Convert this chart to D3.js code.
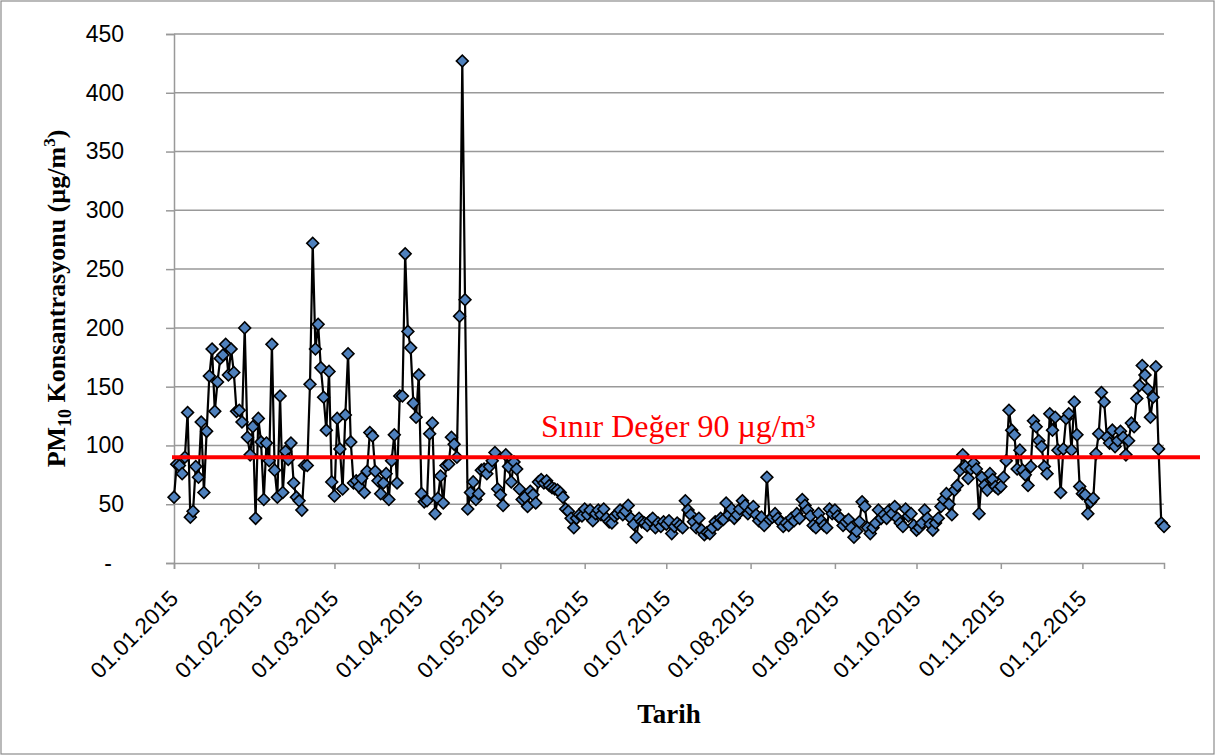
<!DOCTYPE html>
<html><head><meta charset="utf-8">
<script src="https://cdn.jsdelivr.net/npm/d3@7"></script>
<style>body{margin:0;background:#fff;} svg{display:block;}</style>
</head><body>
<svg id="c" width="1216" height="756"></svg>
<script>
// Tick labels (month starts) and their day-of-year index
const monthLabels = ["01.01.2015","01.02.2015","01.03.2015","01.04.2015","01.05.2015","01.06.2015","01.07.2015","01.08.2015","01.09.2015","01.10.2015","01.11.2015","01.12.2015"];
const monthStartDay = [0,31,59,90,120,151,181,212,243,273,304,334];
const yTicks = [0,50,100,150,200,250,300,350,400,450];
const limitValue = 90;
const limitLabel = "Sınır Değer 90 µg/m³";

// Daily PM10 values (µg/m³), 2015
const jan = [56,84,83,76,90,128,39,44,82,73,120,60,112,159,182,129,154,174,177,186,160,182,162,129,130,120,200,107,92,116,38];
const feb = [123,103,54,102,87,186,79,56,142,60,95,88,102,68,56,53,45,83,83,152,272,182,203,166,141,113,163,69];
const mar = [57,123,97,63,126,178,103,68,70,65,72,60,78,111,108,78,70,59,68,76,54,87,109,68,142,142,263,197,183,136,124];
const apr = [160,59,52,53,110,119,42,55,74,51,83,84,107,101,90,210,427,224,46,60,69,54,59,79,80,76,82,87,94,63];
const may = [58,49,92,82,69,86,80,63,54,56,48,61,58,51,69,71,68,70,66,64,63,62,60,56,46,44,38,30,38,41,40];
const jun = [46,41,45,36,42,45,41,46,38,35,34,40,42,45,41,44,49,38,33,22,38,35,34,32,36,38,30,34,31,35];
const jul = [33,36,25,31,34,32,30,53,45,41,35,30,38,28,24,26,25,30,35,33,38,37,51,41,46,38,41,46,53,49,42];
const aug = [45,48,41,36,39,32,73,37,39,42,38,35,31,34,32,38,36,42,38,54,49,45,40,32,30,42,36,32,30,46,42];
const sep = [45,40,38,32,35,37,30,22,27,35,52,48,30,25,30,34,45,38,41,38,45,42,48,38,34,31,46,40,42,32];
const oct = [28,30,34,45,38,33,28,34,38,48,54,59,50,41,62,66,79,92,82,72,80,85,80,42,73,66,62,76,71,65,63];
const nov = [65,73,87,130,113,109,80,96,79,75,66,82,121,116,104,99,82,76,127,113,124,96,60,97,123,127,96,137,109,65];
const dec = [59,58,42,52,55,93,110,145,137,107,102,113,99,104,112,107,92,104,119,116,140,151,168,160,148,124,141,167,97,34,31];

const values = [].concat(jan,feb,mar,apr,may,jun,jul,aug,sep,oct,nov,dec);
const data = values.map((v,i)=>({day:i, v:v}));

const svg = d3.select("#c");
const W = 1216, H = 756;
const m = {left:174, right:52, top:34, bottom:193};

// outer frame
svg.append("rect").attr("x",1).attr("y",1).attr("width",W-3).attr("height",H-3)
  .attr("fill","#fff").attr("stroke","#8c8c8c").attr("stroke-width",1.2);

const x = d3.scaleLinear().domain([0, values.length-1]).range([m.left, W-m.right]);
const y = d3.scaleLinear().domain([0,450]).range([H-m.bottom, m.top]);

// gridlines
svg.append("g").selectAll("line").data(yTicks.filter(d=>d>0)).join("line")
  .attr("x1",x(0)).attr("x2",x(values.length-1))
  .attr("y1",d=>y(d)).attr("y2",d=>y(d))
  .attr("stroke","#999").attr("stroke-width",1.5);

// y axis
const yAxis = svg.append("g").attr("transform",`translate(${x(0)},0)`)
  .call(d3.axisLeft(y).tickValues(yTicks).tickSize(8).tickPadding(42)
    .tickFormat(d=> d===0 ? "-" : d));
yAxis.select(".domain").attr("stroke","#999").attr("stroke-width",1.5);
yAxis.selectAll(".tick line").attr("stroke","#999").attr("stroke-width",1.5);
yAxis.selectAll(".tick text").attr("font-family","Liberation Sans, Arial, sans-serif")
  .attr("font-size",23).attr("fill","#000")
  .attr("dx", d=> d===0 ? -12 : 0);

// x axis
const xAxis = svg.append("g").attr("transform",`translate(0,${y(0)})`)
  .call(d3.axisBottom(x).tickValues(monthStartDay).tickSize(6)
    .tickFormat((d,i)=>monthLabels[i]));
xAxis.select(".domain").attr("stroke","#999").attr("stroke-width",1.5);
xAxis.selectAll(".tick line").attr("stroke","#999").attr("stroke-width",1.5);
xAxis.selectAll(".tick text")
  .attr("font-family","Liberation Sans, Arial, sans-serif").attr("font-size",22.5).attr("fill","#000")
  .attr("text-anchor","end").attr("dy",0).attr("y",0)
  .attr("transform","translate(5,37) rotate(-45)");

// series line
svg.append("path").datum(data)
  .attr("d", d3.line().x(d=>x(d.day)).y(d=>y(d.v)))
  .attr("fill","none").attr("stroke","#000").attr("stroke-width",2.2).attr("stroke-linejoin","round");

// diamond markers
const sym = d3.symbol().type(d3.symbolSquare).size(70);
svg.append("g").selectAll("path").data(data).join("path")
  .attr("d", sym())
  .attr("transform", d=>`translate(${x(d.day)},${y(d.v)}) rotate(45)`)
  .attr("fill","#4f81bd").attr("stroke","#000").attr("stroke-width",1.6);

// limit line
svg.append("line").attr("x1",x(0)-2).attr("x2",1200)
  .attr("y1",y(limitValue)).attr("y2",y(limitValue))
  .attr("stroke","#ff0000").attr("stroke-width",4);
svg.append("text").attr("x",541).attr("y",437)
  .attr("font-family","Liberation Serif, Times New Roman, serif").attr("font-size",32)
  .attr("fill","#ff0000").text(limitLabel);

// axis titles
svg.append("text").attr("x",(x(0)+x(values.length-1))/2).attr("y",723)
  .attr("text-anchor","middle").attr("font-family","Liberation Serif, Times New Roman, serif")
  .attr("font-weight","bold").attr("font-size",27).text("Tarih");

const yt = svg.append("text").attr("transform",`translate(65,${y(225)}) rotate(-90)`)
  .attr("text-anchor","middle").attr("font-family","Liberation Serif, Times New Roman, serif")
  .attr("font-weight","bold").attr("font-size",26);
yt.append("tspan").text("PM");
yt.append("tspan").attr("font-size",18).attr("dy",6).text("10");
yt.append("tspan").attr("dy",-6).text(" Konsantrasyonu (µg/m");
yt.append("tspan").attr("font-size",17).attr("dy",-10).text("3");
yt.append("tspan").attr("dy",10).text(")");
</script>
</body></html>
